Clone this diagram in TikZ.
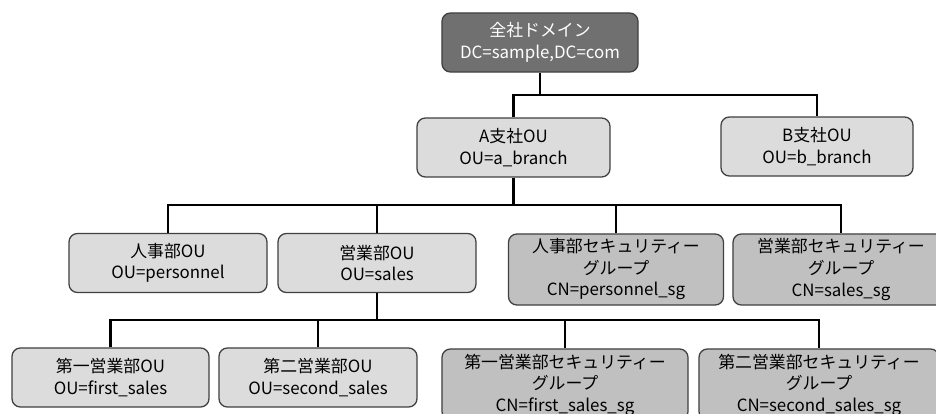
\documentclass[tikz,border=0pt]{standalone}
\usepackage{fontspec}
\setmainfont{Noto Sans CJK JP}
\usepackage{tikz}
\usetikzlibrary{calc,positioning}
\definecolor{boxline}{HTML}{404040}
\definecolor{boxlight}{HTML}{DCDCDC}
\definecolor{boxmid}{HTML}{C0C0C0}
\definecolor{boxdark}{HTML}{707070}

\begin{document}
\begin{tikzpicture}[x=0.025cm,y=-0.025cm,
    box/.style={rounded corners=6pt,draw=boxline,line width=0.9pt,align=center,
      inner sep=0pt,font=\fontsize{12}{15.3}\selectfont},
    oubox/.style={box,fill=boxlight,minimum height=1.475cm},
    sgbox/.style={box,fill=boxmid,minimum height=1.775cm},
    topbox/.style={box,fill=boxdark,text=white,minimum height=1.475cm},
    tree/.style={line width=2.1pt,black}]
    \useasboundingbox (0,0) rectangle (936,414);
    \clip (0,0) rectangle (936,414);
    % domain and branches
    \node[topbox,minimum width=4.9cm] (root) at (540,42.5) {全社ドメイン\\DC=sample,DC=com};
    \node[oubox,minimum width=4.825cm] (abr) at (513.5,147.5) {A支社OU\\OU=a\_branch};
    \node[oubox,minimum width=4.8cm] (bbr) at (817,146.5) {B支社OU\\OU=b\_branch};
    % departments and groups
    \node[oubox,minimum width=4.95cm] (pers) at (168,263) {人事部OU\\OU=personnel};
    \node[oubox,minimum width=4.95cm] (sales) at (377,263) {営業部OU\\OU=sales};
    \node[sgbox,minimum width=5.375cm] (perssg) at (616,269.5) {人事部セキュリティー\\グループ\\CN=personnel\_sg};
    \node[sgbox,minimum width=5.4cm] (salessg) at (841,269.5) {営業部セキュリティー\\グループ\\CN=sales\_sg};
    % sales sections
    \node[oubox,minimum width=4.925cm] (first) at (110.5,377.5) {第一営業部OU\\OU=first\_sales};
    \node[oubox,minimum width=4.95cm] (second) at (318,377.5) {第二営業部OU\\OU=second\_sales};
    \node[sgbox,minimum width=6.15cm] (firstsg) at (565,384.5) {第一営業部セキュリティー\\グループ\\CN=first\_sales\_sg};
    \node[sgbox,minimum width=6.0cm] (secondsg) at (819,384.5) {第二営業部セキュリティー\\グループ\\CN=second\_sales\_sg};
    % connectors
    \coordinate (busA) at (0,95);
    \coordinate (busB) at (0,205);
    \coordinate (busC) at (0,320);
    \draw[tree] (root.south) -- (root.south |- busA);
    \draw[tree] (abr.north) |- (bbr.north |- busA) -- (bbr.north);
    \draw[tree] (abr.south) -- (abr.south |- busB);
    \draw[tree] (pers.north) |- (salessg.north |- busB) -- (salessg.north);
    \foreach \n in {sales,perssg}
      \draw[tree] (\n.north) -- (\n.north |- busB);
    \draw[tree] (sales.south) -- (sales.south |- busC);
    \draw[tree] (first.north) |- (secondsg.north |- busC) -- (secondsg.north);
    \foreach \n in {second,firstsg}
      \draw[tree] (\n.north) -- (\n.north |- busC);
\end{tikzpicture}
\end{document}
